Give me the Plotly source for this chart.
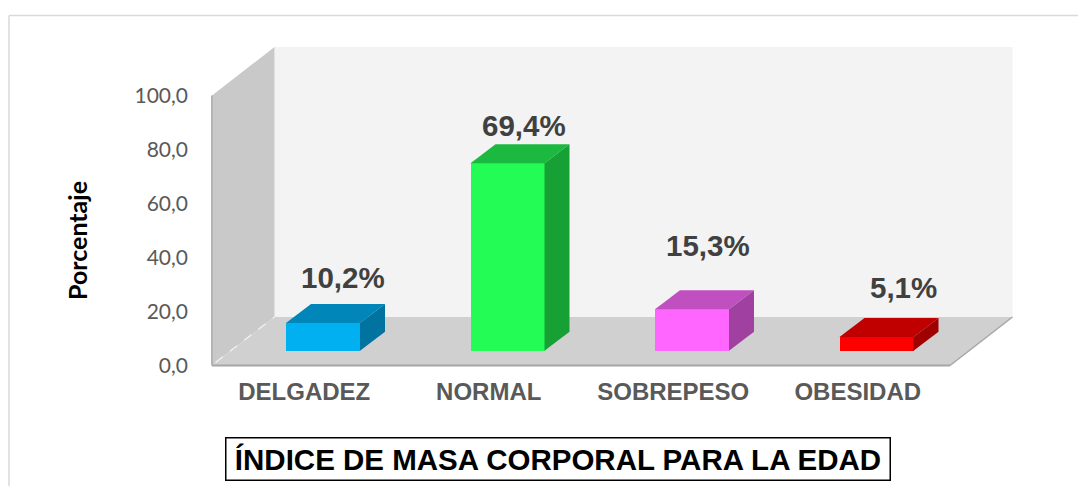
import plotly.graph_objects as go

# --- data ---
categories = ["DELGADEZ", "NORMAL", "SOBREPESO", "OBESIDAD"]
values = [10.2, 69.4, 15.3, 5.1]
value_labels = ["10,2%", "69,4%", "15,3%", "5,1%"]
y_ticks = [0, 20, 40, 60, 80, 100]
y_tick_labels = ["0,0", "20,0", "40,0", "60,0", "80,0", "100,0"]

front_colors = ["#00b0f0", "#22fc55", "#ff66ff", "#ff0000"]
top_colors = ["#0086b8", "#1bb93f", "#c050c0", "#c00000"]
side_colors = ["#0073a0", "#17a135", "#a040a0", "#a00000"]

# --- scale (pixels per data unit) and 3-D projection ---
W, H = 1078, 486
PX_X = 184.5
PX_Y = 2.70
X0, Y0 = 212.0, 365.5          # pixel of data (0, 0)
PL, PR, PT, PB = 208, 1017, 45, 370   # plot-area box in pixels

WALL_DX, WALL_DY = 62.5 / PX_X, 48.5 / PX_Y
BAR_DX, BAR_DY = 25.0 / PX_X, 19.0 / PX_Y
BAR_WIDTH = 74.0 / PX_X
BAR_BASE = 5.5
BAR_SHIFT = 0.1016
X_MAX = 4.0
Y_MAX = 100.0
WALL_TOP = Y_MAX

tick_x = [i + 0.5 for i in range(len(categories))]
bar_x = [t + BAR_SHIFT for t in tick_x]
LABEL_DX = [20, 16, 16, 27]       # px from the bar's centre
LABEL_LIFT = [46, 38, 64, 49]     # px above the bar's front top

fig = go.Figure()

def poly(xs, ys, color):
    path = "M " + " L ".join(f"{x},{y}" for x, y in zip(xs, ys)) + " Z"
    return dict(type="path", path=path, xref="x", yref="y", fillcolor=color,
                line=dict(width=0), layer="below")

def seg(x0, y0, x1, y1, color, width, dash="solid"):
    return dict(type="line", x0=x0, y0=y0, x1=x1, y1=y1, xref="x", yref="y",
                line=dict(color=color, width=width, dash=dash), layer="below")

shapes = [
    # outer frame of the picture
    dict(type="line", xref="paper", yref="paper",
         x0=(9 - PL) / (PR - PL), x1=(W - PL) / (PR - PL),
         y0=(PB - 15.5) / (PB - PT), y1=(PB - 15.5) / (PB - PT),
         line=dict(color="#d9d9d9", width=1.5)),
    dict(type="line", xref="paper", yref="paper",
         x0=(9 - PL) / (PR - PL), x1=(9 - PL) / (PR - PL),
         y0=(PB - 15.5) / (PB - PT), y1=(PB - H) / (PB - PT),
         line=dict(color="#d9d9d9", width=1.5)),
    # back wall, side wall, floor
    poly([WALL_DX, X_MAX + WALL_DX, X_MAX + WALL_DX, WALL_DX],
         [WALL_DY, WALL_DY, WALL_TOP + WALL_DY, WALL_TOP + WALL_DY], "#f3f3f3"),
    poly([0, WALL_DX, WALL_DX, 0],
         [0, WALL_DY, WALL_TOP + WALL_DY, WALL_TOP], "#c9c9c9"),
    poly([0, X_MAX, X_MAX + WALL_DX, WALL_DX],
         [0, 0, WALL_DY, WALL_DY], "#d0d0d0"),
    # edges
    seg(0, 0, 0, WALL_TOP, "#b4b4b4", 2),
    seg(0, 0, X_MAX, 0, "#a6a6a6", 2),
    seg(X_MAX, 0, X_MAX + WALL_DX, WALL_DY, "#a6a6a6", 1.5),
    seg(0.02, 1.2, WALL_DX, WALL_DY, "#f2f2f2", 1.2, "dash"),
]

# front faces
fig.add_trace(go.Bar(
    x=bar_x, y=values, base=[BAR_BASE] * len(values), width=BAR_WIDTH,
    marker=dict(color=front_colors, line=dict(width=0)),
    showlegend=False, hoverinfo="skip",
))

# top and side faces, projected from the same values
for cx, v, tc, sc in zip(bar_x, values, top_colors, side_colors):
    xl, xr = cx - BAR_WIDTH / 2, cx + BAR_WIDTH / 2
    yb, yt = BAR_BASE, BAR_BASE + v
    fig.add_trace(go.Scatter(
        x=[xl, xr, xr + BAR_DX, xl + BAR_DX, xl],
        y=[yt, yt, yt + BAR_DY, yt + BAR_DY, yt],
        mode="lines", fill="toself", fillcolor=tc, line=dict(width=0),
        showlegend=False, hoverinfo="skip"))
    fig.add_trace(go.Scatter(
        x=[xr, xr + BAR_DX, xr + BAR_DX, xr, xr],
        y=[yb, yb + BAR_DY, yt + BAR_DY, yt, yb],
        mode="lines", fill="toself", fillcolor=sc, line=dict(width=0),
        showlegend=False, hoverinfo="skip"))

annotations = []
for cx, v, txt, dx, lift in zip(bar_x, values, value_labels, LABEL_DX, LABEL_LIFT):
    annotations.append(dict(
        x=cx, y=BAR_BASE + v, xref="x", yref="y", text=txt, showarrow=False,
        xshift=dx, yshift=lift, xanchor="center", yanchor="middle",
        font=dict(family="Liberation Sans", size=29.5, color="#404040", weight="bold")))

# axis title
annotations.append(dict(
    x=(77 - PL) / (PR - PL), y=(PB - 241) / (PB - PT), xref="paper", yref="paper",
    text="Porcentaje", textangle=-90, showarrow=False,
    xanchor="center", yanchor="middle",
    font=dict(family="Lato", size=25, color="#000000", weight="bold")))

# boxed caption
annotations.append(dict(
    x=(557.5 - PL) / (PR - PL), y=(PB - 458.5) / (PB - PT), xref="paper", yref="paper",
    text="ÍNDICE DE MASA CORPORAL PARA LA EDAD", showarrow=False,
    xanchor="center", yanchor="middle", width=663, height=41, align="center",
    bordercolor="#000000", borderwidth=1.5, borderpad=0, bgcolor="#ffffff",
    font=dict(family="Liberation Sans", size=29.5, color="#000000", weight="bold")))

fig.update_layout(
    width=W, height=H,
    margin=dict(l=PL, r=W - PR, t=PT, b=H - PB, autoexpand=False),
    paper_bgcolor="#ffffff", plot_bgcolor="rgba(0,0,0,0)",
    shapes=shapes, annotations=annotations, showlegend=False, bargap=0,
    xaxis=dict(
        range=[(PL - X0) / PX_X, (PR - X0) / PX_X],
        tickmode="array", tickvals=tick_x, ticktext=categories,
        showgrid=False, zeroline=False, showline=False, ticks="",
        ticklabelstandoff=5,
        tickfont=dict(family="Liberation Sans", size=24, color="#595959", weight="bold"),
    ),
    yaxis=dict(
        range=[(Y0 - PB) / PX_Y, (Y0 - PT) / PX_Y],
        tickmode="array", tickvals=y_ticks, ticktext=y_tick_labels,
        showgrid=False, zeroline=False, showline=False, ticks="",
        ticklabelstandoff=19,
        tickfont=dict(family="Lato", size=21, color="#595959"),
    ),
)

fig.write_html("out.html", config={"displayModeBar": False},
               post_script="document.body.style.margin='0';")
